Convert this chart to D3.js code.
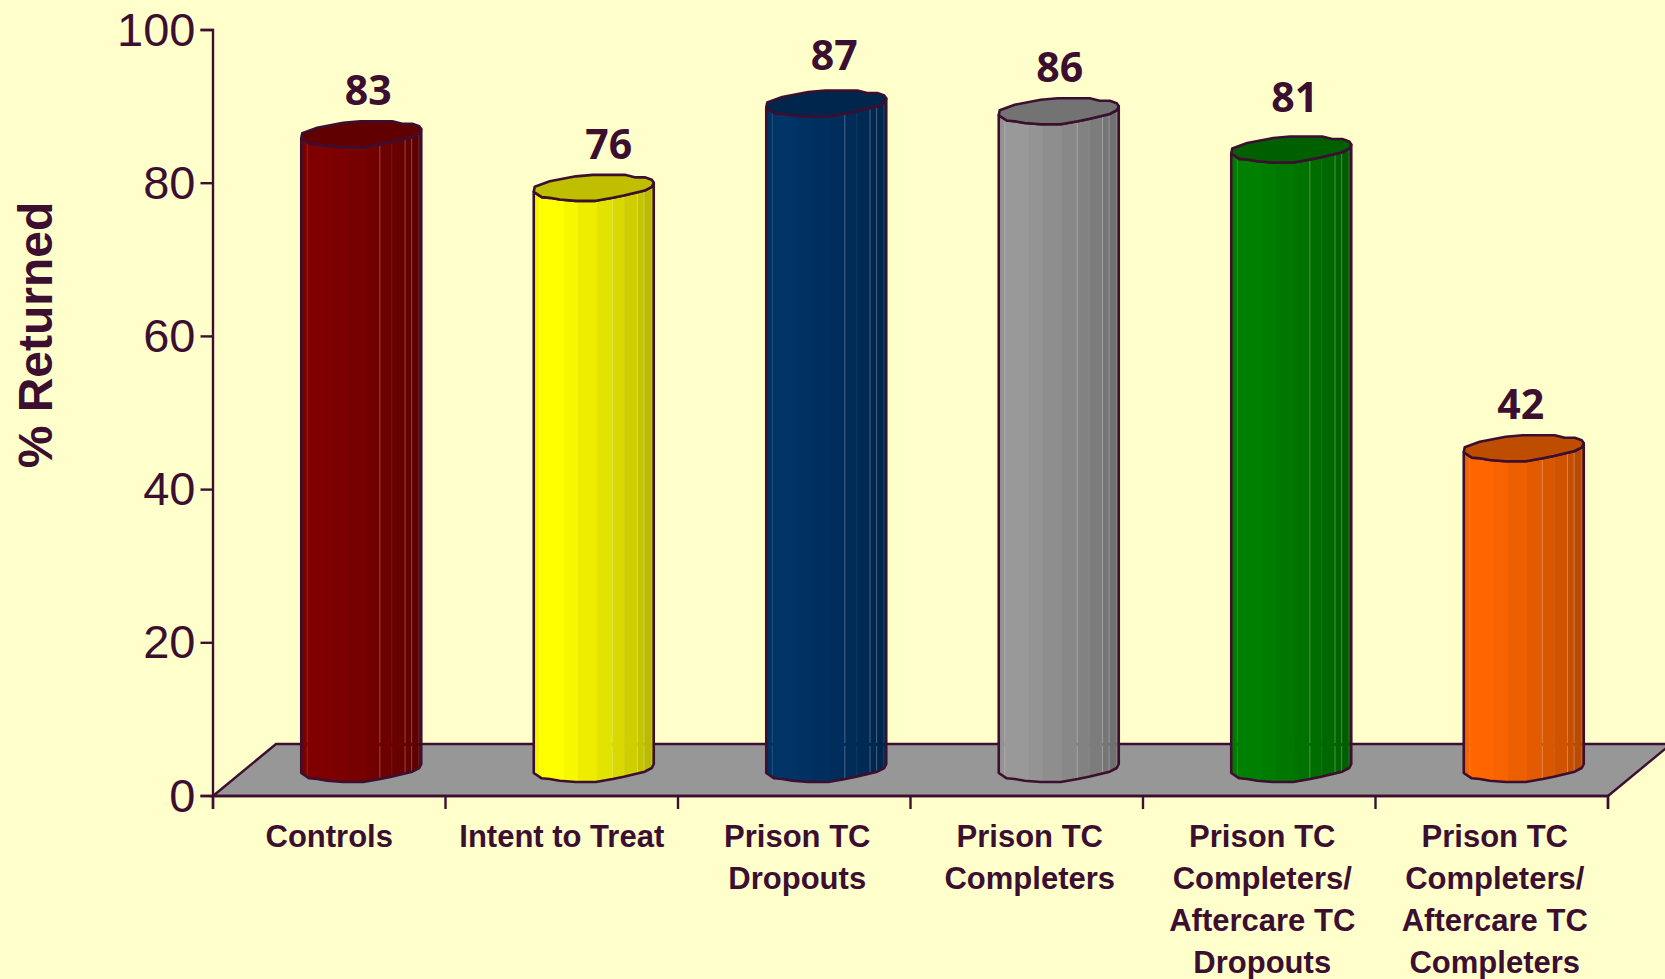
<!DOCTYPE html>
<html>
<head>
<meta charset="utf-8">
<script src="https://cdn.jsdelivr.net/npm/d3@7/dist/d3.min.js"></script>
<style>
  html, body { margin: 0; padding: 0; background: #ffffcc; overflow: hidden; }
  svg { display: block; }
  text { fill: #3c0f30; font-family: "Liberation Sans", Arial, sans-serif; }
</style>
</head>
<body>
<svg id="chart" width="1665" height="979"></svg>
<script>
var categories = [
  "Controls",
  "Intent to Treat",
  "Prison TC\nDropouts",
  "Prison TC\nCompleters",
  "Prison TC\nCompleters/\nAftercare TC\nDropouts",
  "Prison TC\nCompleters/\nAftercare TC\nCompleters"
];
var returned = [83, 76, 87, 86, 81, 42];
var barColors = ["#800000", "#ffff00", "#003366", "#999999", "#008000", "#ff6600"];
var yTicks = [0, 20, 40, 60, 80, 100];

var ink = "#3c0f30";
var svg = d3.select("#chart");

var left = 213, right = 1608, top_ = 30, bottom = 796;
var depthX = 63, depthY = 52;   // floor slant
var barShiftX = 32, barShiftY = 26;  // bars stand in the middle of the floor depth
var floorBack = bottom - depthY;

var y = d3.scaleLinear().domain([0, 100]).range([bottom, top_]);
var edges = d3.scaleLinear().domain([0, categories.length]).range([left, right]);
var x = d3.scaleBand().domain(d3.range(categories.length)).range([left, right]);
var barWidth = 120;

// wobbly outline of the cylinder lip, px from its centre, left to right
var lipUpper = [[-60, 4], [-59, -1], [-44, -6.5], [-18, -11.5], [-1, -13], [31, -13], [41, -10.5], [51, -10.5], [58, -8], [60, -5]];
var lipLower = [[-60, 4], [-52, 9.3], [-44, 10], [-34, 11.7], [-18, 13], [2, 13], [19, 10], [30, 7.7], [51, 2.7], [58, -1], [60, -5]];
var lowerAt = d3.scaleLinear().domain(lipLower.map(d => d[0])).range(lipLower.map(d => d[1]));

// vertical facets on the body
var facetEdges = [0, 0.04, 0.25, 0.37, 0.53, 0.655, 0.755, 0.865, 0.92, 1];
var facetShade = [0.96, 1, 0.97, 0.93, 0.89, 0.85, 0.81, 0.77, 0.73];
var seams = [[0.05, 0.15], [0.655, 0.28], [0.755, 0.08], [0.865, 0.28], [0.92, 0.28], [0.98, 0.15]];

function shade(c, k) {
  var r = d3.rgb(c);
  return d3.rgb(r.r * k, r.g * k, r.b * k).formatHex();
}

var defs = svg.append("defs");
barColors.forEach(function(c, i) {
  var g = defs.append("linearGradient").attr("id", "facets-" + i)
    .attr("x1", "0%").attr("x2", "100%").attr("y1", "0%").attr("y2", "0%");
  facetShade.forEach(function(k, j) {
    g.append("stop").attr("offset", facetEdges[j]).attr("stop-color", shade(c, k));
    g.append("stop").attr("offset", facetEdges[j + 1]).attr("stop-color", shade(c, k));
  });
});

// floor
var line = d3.line();
svg.append("path")
  .attr("d", line([[left, bottom], [left + depthX, floorBack], [right + depthX, floorBack], [right, bottom]]) + "Z")
  .attr("fill", "#979797")
  .attr("stroke", ink)
  .attr("stroke-width", 2.4);

// axes
var yAxis = svg.append("g")
  .attr("transform", "translate(" + left + ",0)")
  .call(d3.axisLeft(y).tickValues(yTicks).tickSize(12.5).tickPadding(5).offset(0));
var xAxis = svg.append("g")
  .attr("transform", "translate(0," + bottom + ")")
  .call(d3.axisBottom(edges).tickValues(d3.range(categories.length + 1)).tickSize(13).tickFormat("").offset(0));
svg.selectAll(".domain, .tick line").attr("stroke", ink).attr("stroke-width", 2.4);
yAxis.selectAll("text")
  .attr("fill", ink)
  .style("font-size", "47px")
  .style("font-family", '"Liberation Sans", Arial, sans-serif')
  .attr("dy", "0.33em");

svg.append("text")
  .attr("transform", "translate(51.5,335) rotate(-90)")
  .attr("text-anchor", "middle")
  .style("font-size", "48px")
  .style("font-weight", "bold")
  .text("% Returned");

// category labels
svg.selectAll(".cat")
  .data(categories)
  .enter().append("text")
  .attr("class", "cat")
  .attr("text-anchor", "middle")
  .style("font-size", "31px")
  .style("font-weight", "bold")
  .each(function(d, i) {
    var lines = d.split("\n");
    d3.select(this).selectAll("tspan")
      .data(lines)
      .enter().append("tspan")
      .attr("x", x(i) + x.bandwidth() / 2 + (lines.length > 1 ? 3 : 0))
      .attr("y", (t, j) => 847 + j * 42)
      .text(t => t);
  });

// bars
var bars = svg.selectAll(".bar")
  .data(returned)
  .enter().append("g")
  .attr("class", "bar")
  .attr("transform", (d, i) => "translate(" + (x(i) + x.bandwidth() / 2 + barShiftX) + ",0)");

function body(v) {
  var topY = y(v) - barShiftY, baseY = y(0) - barShiftY - 1;
  var upper = lipLower.map(p => [p[0], p[1] + topY]);
  var lower = lipLower.map(p => [p[0], p[1] + baseY]).reverse();
  return line(upper.concat(lower)) + "Z";
}
function lip(v) {
  var topY = y(v) - barShiftY;
  var ring = lipUpper.concat(lipLower.slice(1, -1).reverse());
  return line(ring.map(p => [p[0], p[1] + topY])) + "Z";
}

bars.append("path")
  .attr("d", body)
  .attr("fill", (d, i) => "url(#facets-" + i + ")");

// light seams between facets, broken where the floor edge passes behind
bars.each(function(v) {
  var g = d3.select(this);
  seams.forEach(function(f) {
    var sx = (f[0] - 0.5) * barWidth;
    var y0 = y(v) - barShiftY + lowerAt(sx), y1 = y(0) - barShiftY - 1 + lowerAt(sx);
    [[y0, floorBack - 1], [floorBack + 2, y1]].forEach(function(s) {
      if (s[1] > s[0]) {
        g.append("line")
          .attr("x1", sx).attr("x2", sx)
          .attr("y1", s[0]).attr("y2", s[1])
          .attr("stroke", "#ffffff")
          .attr("stroke-opacity", f[1])
          .attr("stroke-width", 1);
      }
    });
  });
});

bars.append("path")
  .attr("d", body)
  .attr("fill", "none")
  .attr("stroke", ink)
  .attr("stroke-width", 2.6)
  .attr("stroke-linejoin", "round");

bars.append("path")
  .attr("d", lip)
  .attr("fill", (d, i) => shade(barColors[i], 0.75))
  .attr("stroke", ink)
  .attr("stroke-width", 2.6)
  .attr("stroke-linejoin", "round");

// value labels, nudged by hand like in the original
var labelNudgeX = [7, 15, 8, 1, 3.5, -3];
var labelNudgeY = [0, 0, -5, 0, -8.5, 0];
svg.selectAll(".value")
  .data(returned)
  .enter().append("text")
  .attr("class", "value")
  .attr("text-anchor", "middle")
  .attr("x", (d, i) => x(i) + x.bandwidth() / 2 + barShiftX + labelNudgeX[i])
  .attr("y", (d, i) => y(d) - 55 + labelNudgeY[i])
  .style("font-family", '"Open Sans", "Noto Sans", sans-serif')
  .style("font-size", "41px")
  .style("font-weight", "bold")
  .text(d => d);
</script>
</body>
</html>
